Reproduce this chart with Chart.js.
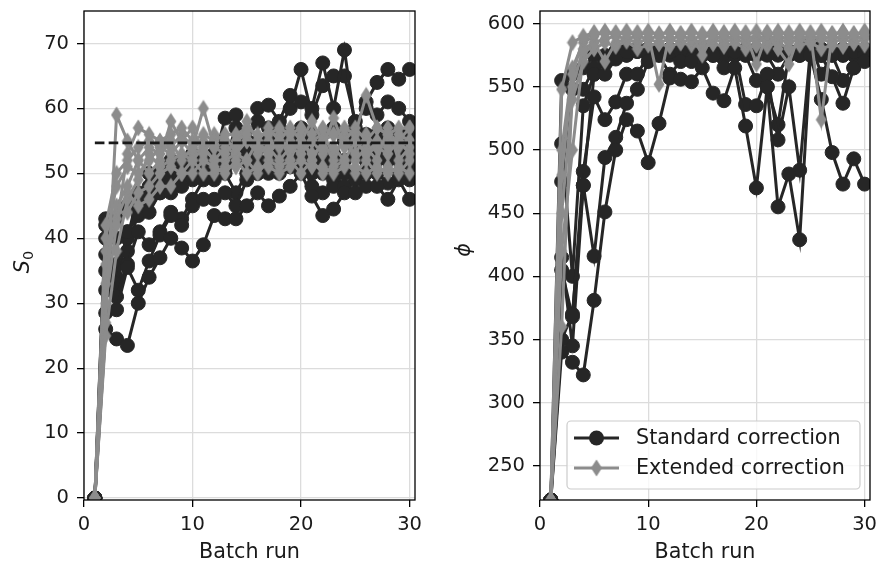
<!DOCTYPE html>
<html>
<head>
<meta charset="utf-8">
<script src="https://cdn.jsdelivr.net/npm/chart.js@4.4.0/dist/chart.umd.min.js"></script>
<style>
  html, body { margin: 0; padding: 0; background: #fff; }
  #wrap { position: relative; width: 881px; height: 569px; }
  canvas { position: absolute; top: 0; }
</style>
</head>
<body>
<div id="wrap">
  <canvas id="chartS0" width="440" height="569" style="left:0;width:440px;height:569px"></canvas>
  <canvas id="chartPhi" width="441" height="569" style="left:440px;width:441px;height:569px"></canvas>
</div>
<script>
// batch runs (x axis)
const batch = [1, 2, 3, 4, 5, 6, 7, 8, 9, 10, 11, 12, 13, 14, 15, 16, 17, 18, 19, 20, 21, 22, 23, 24, 25, 26, 27, 28, 29, 30];
const seriesLabels = ["Standard correction", "Extended correction"];

// S0, standard correction runs
const s0Standard = [
  [0, 26, 24.5, 23.5, 30, 34, 37, 40, 38.5, 36.5, 39, 43.5, 43, 43, 45, 47, 45, 46.5, 48, 50, 46.5, 43.5, 44.5, 47, 47, 48, 48, 46, 49, 46],
  [0, 28.5, 29, 35.5, 32, 36.5, 40.5, 43.5, 42, 45, 46, 46, 47, 45, 49, 50, 50, 50, 51, 52, 48, 47, 48, 48, 49, 50, 50, 48.5, 50, 49],
  [0, 32, 31, 36, 41, 39, 41, 44, 43, 46, 49, 49, 50, 47, 50, 51, 52, 52, 54, 55, 50, 52, 49, 50, 50, 52, 53, 52, 52, 51],
  [0, 37.5, 33, 41, 44, 44, 47, 47, 48, 50, 50.5, 52, 58.5, 59, 54, 60, 60.5, 58, 62, 61, 60, 67, 60, 69, 57, 61, 64, 66, 64.5, 66],
  [0, 43, 40, 41, 43.5, 46, 47, 50, 49, 49, 51, 53, 52, 57, 55, 58, 57, 57, 60, 66, 59, 63.5, 65, 65, 58, 60, 59, 61, 60, 58],
  [0, 42, 43, 45, 45, 48, 50, 51, 50, 52, 52, 53, 54, 54, 53, 55, 54, 55, 56, 57, 55, 56, 57, 56, 55, 56, 56, 57, 56, 56],
  [0, 35, 36, 40, 47, 46, 50, 49, 52, 51, 51, 50, 51, 52, 52, 50, 51, 53, 52, 53, 53, 50, 51, 52, 54, 54, 52, 53, 55, 52],
  [0, 40, 34, 38, 44, 50, 48, 52, 51, 53, 50, 52, 53, 52, 53, 52, 55, 53, 54, 52, 56, 54, 53, 55, 53, 52, 55, 54, 53, 54]
];

// S0, extended correction runs
const s0Extended = [
  [0, 27, 59, 55, 52, 54, 53, 55, 52, 54, 60, 54, 53, 55, 56, 54, 53, 55, 54, 55, 53, 54, 58.5, 54, 55, 53, 55, 54, 56, 55],
  [0, 30, 42, 53, 57, 56, 55, 56, 57, 55, 56, 55, 56, 56, 57, 56, 56, 57, 56, 57, 56, 57, 56, 57, 56, 62, 57, 56, 57, 57],
  [0, 33, 45, 48, 52, 50, 52, 58, 55, 57, 53, 56, 55, 54, 58, 55, 57, 55, 57, 55, 58, 55, 56, 55, 57, 55, 57, 56, 55, 57],
  [0, 36, 43, 47, 45, 46, 48, 48, 50, 50, 52, 51, 50, 52, 50, 51, 51, 50, 51, 52, 51, 51, 50, 51, 51, 50, 51, 50, 51, 50],
  [0, 38, 44, 44, 47, 48, 50, 51, 50, 52, 50, 50, 51, 51, 52, 50, 52, 51, 52, 50, 52, 50, 51, 52, 50, 52, 50, 51, 50, 52],
  [0, 40, 48, 51, 50, 52, 54, 53, 55, 53, 54, 52, 54, 53, 55, 53, 54, 52, 54, 53, 55, 53, 54, 52, 55, 53, 54, 53, 55, 53],
  [0, 42, 50, 52, 54, 55, 54, 54, 56, 54, 55, 54, 55, 54, 55, 54, 55, 54, 55, 54, 55, 56, 53, 55, 53, 56, 54, 55, 54, 55],
  [0, 25, 38, 46, 49, 53, 51, 52, 53, 52, 54, 52, 52, 53, 52, 55, 53, 56, 52, 56, 52, 55, 52, 56, 52, 54, 52, 57, 52, 54]
];

// reference S0 (dashed line)
const s0Reference = 54.7;
const s0ReferenceX = [1, 31];

// phi, standard correction runs
const phiStandard = [
  [223, 340, 332, 322, 381, 451, 500, 524, 515, 490, 521, 557, 556, 554, 565, 545, 539, 565, 519, 470, 550, 455, 481, 429, 575, 540, 498, 473, 493, 473],
  [223, 350, 370, 472, 416, 494, 510, 537, 548, 570, 575, 560, 570, 570, 580, 575, 565, 578, 536, 535, 560, 508, 550, 484, 580, 575, 558, 537, 565, 570],
  [223, 405, 368, 483, 542, 524, 538, 560, 560, 575, 578, 578, 578, 572, 575, 575, 575, 575, 575, 555, 550, 520, 575, 575, 585, 560, 575, 555, 565, 575],
  [223, 505, 400, 535, 560, 560, 572, 578, 578, 578, 580, 578, 580, 578, 580, 578, 575, 578, 575, 575, 575, 560, 575, 575, 578, 575, 578, 575, 578, 580],
  [223, 555, 548, 548, 565, 572, 575, 575, 578, 580, 578, 580, 578, 580, 578, 580, 578, 580, 578, 580, 578, 578, 575, 578, 580, 578, 575, 580, 575, 578],
  [223, 475, 560, 565, 575, 575, 578, 580, 580, 580, 580, 575, 580, 580, 578, 580, 580, 575, 580, 578, 580, 575, 578, 580, 578, 580, 580, 578, 580, 575],
  [223, 415, 345, 472, 560, 570, 578, 575, 580, 578, 575, 578, 575, 578, 575, 575, 578, 575, 578, 575, 578, 580, 578, 575, 578, 575, 578, 575, 578, 575]
];

// phi, extended correction runs
const phiExtended = [
  [223, 548, 585, 590, 593, 592, 593, 592, 593, 592, 552, 593, 592, 593, 592, 593, 592, 593, 592, 568, 593, 592, 593, 592, 593, 524, 592, 593, 592, 593],
  [223, 480, 560, 588, 592, 593, 592, 593, 592, 593, 592, 593, 592, 593, 575, 592, 593, 592, 593, 583, 593, 580, 568, 593, 592, 593, 592, 593, 592, 593],
  [223, 360, 550, 580, 585, 588, 590, 588, 590, 588, 590, 588, 590, 588, 590, 590, 588, 590, 588, 590, 588, 590, 588, 590, 588, 590, 588, 590, 588, 590],
  [223, 420, 500, 575, 585, 570, 585, 588, 585, 588, 585, 588, 585, 588, 585, 588, 585, 588, 585, 588, 585, 588, 585, 588, 585, 588, 585, 588, 585, 588],
  [223, 450, 540, 570, 580, 585, 582, 586, 580, 583, 584, 582, 585, 583, 581, 584, 582, 585, 580, 583, 582, 585, 580, 583, 585, 580, 583, 582, 585, 583],
  [223, 500, 565, 585, 590, 594, 591, 594, 590, 594, 591, 594, 590, 594, 591, 594, 590, 594, 591, 594, 590, 594, 591, 594, 590, 594, 591, 594, 590, 594]
];

// tick labels
const xTicks = [0, 10, 20, 30];
const s0Ticks = [0, 10, 20, 30, 40, 50, 60, 70];
const phiTicks = [250, 300, 350, 400, 450, 500, 550, 600];

const DARK = "#262626";
const GRAY = "#8c8c8c";
const FONT = "'DejaVu Sans', sans-serif";

// thin diamond marker
const diamond = document.createElement("canvas");
diamond.width = 12;
diamond.height = 18;
(() => {
  const c = diamond.getContext("2d");
  c.fillStyle = GRAY;
  c.beginPath();
  c.moveTo(6, 0.5);
  c.lineTo(11.5, 9);
  c.lineTo(6, 17.5);
  c.lineTo(0.5, 9);
  c.closePath();
  c.fill();
})();

const toPoints = (ys) => ys.map((y, i) => ({ x: batch[i], y: y }));

const stdDataset = (ys) => ({
  data: toPoints(ys),
  borderColor: DARK,
  backgroundColor: DARK,
  borderWidth: 3,
  pointStyle: "circle",
  pointRadius: 7,
  pointBorderWidth: 1,
  pointBackgroundColor: DARK,
  pointBorderColor: DARK,
  tension: 0,
  clip: 0,
  order: 3,
});

const extDataset = (ys) => ({
  data: toPoints(ys),
  borderColor: GRAY,
  backgroundColor: GRAY,
  borderWidth: 3,
  pointStyle: diamond,
  pointRadius: 8,
  tension: 0,
  clip: 0,
  order: 2,
});

// frame, y-axis title and legend drawn on top
const decorPlugin = {
  id: "decor",
  afterDraw(chart, args, opts) {
    const { ctx, chartArea: a } = chart;
    ctx.save();
    ctx.strokeStyle = "#000";
    ctx.lineWidth = 1.3;
    ctx.strokeRect(a.left, a.top, a.right - a.left, a.bottom - a.top);

    // y title (rotated)
    ctx.translate(opts.titleX, opts.titleY);
    ctx.rotate(-Math.PI / 2);
    ctx.fillStyle = "#1a1a1a";
    ctx.textBaseline = "alphabetic";
    ctx.font = "oblique 20.7px " + FONT;
    const mainW = ctx.measureText(opts.main).width;
    let subW = 0;
    if (opts.sub) {
      ctx.font = "14.5px " + FONT;
      subW = ctx.measureText(opts.sub).width;
    }
    const start = -(mainW + subW) / 2;
    ctx.font = "oblique 20.7px " + FONT;
    ctx.textAlign = "left";
    ctx.fillText(opts.main, start, 7);
    if (opts.sub) {
      ctx.font = "14.5px " + FONT;
      ctx.fillText(opts.sub, start + mainW, 11);
    }
    ctx.restore();

    if (opts.legend) {
      ctx.save();
      const w = 293, h = 68;
      const x = a.right - 10 - w, y = a.bottom - 11 - h;
      ctx.fillStyle = "rgba(255,255,255,0.8)";
      ctx.strokeStyle = "#cccccc";
      ctx.lineWidth = 1.2;
      ctx.beginPath();
      ctx.roundRect(x, y, w, h, 4);
      ctx.fill();
      ctx.stroke();
      const rows = [y + 17, y + 47];
      [DARK, GRAY].forEach((col, i) => {
        ctx.strokeStyle = col;
        ctx.lineWidth = 3;
        ctx.beginPath();
        ctx.moveTo(x + 7, rows[i]);
        ctx.lineTo(x + 52, rows[i]);
        ctx.stroke();
        if (i === 0) {
          ctx.fillStyle = col;
          ctx.beginPath();
          ctx.arc(x + 29.5, rows[i], 7.5, 0, Math.PI * 2);
          ctx.fill();
        } else {
          ctx.drawImage(diamond, x + 29.5 - diamond.width / 2, rows[i] - diamond.height / 2);
        }
        ctx.fillStyle = "#1a1a1a";
        ctx.font = "20.7px " + FONT;
        ctx.textAlign = "left";
        ctx.textBaseline = "middle";
        ctx.fillText(seriesLabels[i], x + 69, rows[i] + 1);
      });
      ctx.restore();
    }
  },
};

const makeChart = (id, datasets, yMin, yMax, yTicks, yWidth, padRight, decor) => {
  const ctx = document.getElementById(id).getContext("2d");
  return new Chart(ctx, {
    type: "line",
    data: { datasets: datasets },
    options: {
      responsive: false,
      animation: false,
      events: [],
      layout: { padding: { top: 5, right: padRight, left: 0, bottom: 0 } },
      plugins: {
        legend: { display: false },
        tooltip: { enabled: false },
        decor: decor,
      },
      scales: {
        x: {
          type: "linear",
          min: 0,
          max: 30.5,
          afterBuildTicks: (axis) => { axis.ticks = xTicks.map((v) => ({ value: v })); },
          afterFit: (axis) => {
            axis.height = 69;
            axis.paddingLeft = 0;
            axis.paddingRight = 0;
          },
          grid: { color: "#dcdcdc", lineWidth: 1.3, tickColor: "#000", tickLength: 7 },
          border: { display: false },
          ticks: { color: "#1a1a1a", font: { family: FONT, size: 19.5 }, padding: 6, maxRotation: 0 },
          title: { display: true, text: "Batch run", color: "#1a1a1a", font: { family: FONT, size: 20.7 }, padding: { top: 0, bottom: 4 } },
        },
        y: {
          type: "linear",
          min: yMin,
          max: yMax,
          afterBuildTicks: (axis) => { axis.ticks = yTicks.map((v) => ({ value: v })); },
          afterFit: (axis) => {
            axis.width = yWidth;
            axis.paddingTop = 0;
            axis.paddingBottom = 0;
          },
          grid: { color: "#dcdcdc", lineWidth: 1.3, tickColor: "#000", tickLength: 7 },
          border: { display: false },
          ticks: { color: "#1a1a1a", font: { family: FONT, size: 19.5 }, padding: 8 },
        },
      },
    },
    plugins: [decorPlugin],
  });
};

const s0Sets = [
  {
    data: s0ReferenceX.map((x) => ({ x: x, y: s0Reference })),
    borderColor: "#1a1a1a",
    borderWidth: 2.6,
    borderDash: [9.6, 4.2],
    pointRadius: 0,
    clip: 0,
    order: 1,
  },
  ...s0Extended.map(extDataset),
  ...s0Standard.map(stdDataset),
];

const phiSets = [
  ...phiExtended.map(extDataset),
  ...phiStandard.map(stdDataset),
];

makeChart("chartS0", s0Sets, -0.3, 75, s0Ticks, 84, 25, { main: "S", sub: "0", titleX: 22, titleY: 262, legend: false });
makeChart("chartPhi", phiSets, 223, 610, phiTicks, 100, 10, { main: "ϕ", sub: "", titleX: 463 - 440, titleY: 250, legend: true });
</script>
</body>
</html>
